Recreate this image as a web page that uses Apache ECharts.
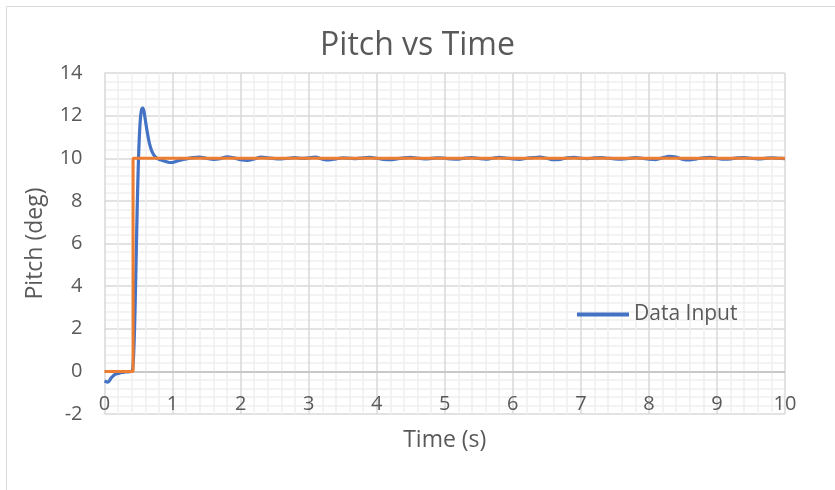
<!DOCTYPE html>
<html>
<head>
<meta charset="utf-8">
<script src="https://cdn.jsdelivr.net/npm/echarts@6/dist/echarts.min.js"></script>
<style>html,body{margin:0;padding:0;background:#fff}#c{width:835px;height:490px}</style>
</head>
<body>
<div id="c"></div>
<script>
// Data Input (blue)
const timeBlue = [0,0.05,0.1,0.15,0.2,0.25,0.3,0.35,0.4,0.42,0.44,0.46,0.48,0.5,0.52,0.54,0.56,0.58,0.6,0.63,0.66,0.7,0.75,0.8,0.85,0.9,0.95,1.0,1.05,
1.1,1.2,1.3,1.4,1.5,1.6,1.7,1.8,1.9,2.0,2.1,2.2,2.3,2.4,2.5,2.6,2.7,2.8,2.9,3.0,3.1,3.2,3.3,3.4,3.5,3.6,3.7,3.8,3.9,4.0,
4.1,4.2,4.3,4.4,4.5,4.6,4.7,4.8,4.9,5.0,5.1,5.2,5.3,5.4,5.5,5.6,5.7,5.8,5.9,6.0,6.1,6.2,6.3,6.4,6.5,6.6,6.7,6.8,6.9,7.0,
7.1,7.2,7.3,7.4,7.5,7.6,7.7,7.8,7.9,8.0,8.1,8.2,8.3,8.4,8.5,8.6,8.7,8.8,8.9,9.0,9.1,9.2,9.3,9.4,9.5,9.6,9.7,9.8,9.9,10.0];
const pitchBlue = [-0.45,-0.5,-0.3,-0.15,-0.1,-0.05,-0.03,-0.02,0,0.3,1.8,4.5,7.6,10.0,11.5,12.2,12.35,12.2,11.8,11.2,10.7,10.3,10.05,9.95,9.9,9.85,9.8,9.8,9.85,
9.9,9.97,10.03,10.05,10.0,9.95,9.98,10.07,10.02,9.93,9.9,9.97,10.05,10.02,9.98,9.97,10.0,10.03,9.99,10.02,10.05,9.96,9.92,9.97,10.02,10.0,9.98,10.02,10.04,10.0,
9.95,9.93,9.97,10.02,10.04,10.0,9.97,9.99,10.02,10.0,9.97,9.96,10.01,10.03,9.99,9.96,10.0,10.04,10.01,9.97,9.95,10.0,10.03,10.05,10.0,9.93,9.95,10.02,10.04,10.0,
9.98,10.02,10.03,10.0,9.97,9.96,9.99,10.03,10.0,9.96,9.94,10.02,10.09,10.05,9.95,9.92,9.97,10.02,10.04,10.0,9.96,9.97,10.02,10.03,10.0,9.97,9.99,10.02,10.0,9.98];
// Reference step (orange)
const timeOrange = [0,0.42,0.42,10];
const pitchOrange = [0,0,10,10];

const blueData = timeBlue.map((t,i)=>[t,pitchBlue[i]]);
const orangeData = timeOrange.map((t,i)=>[t,pitchOrange[i]]);

const txt = '#595959';
const font = 'Open Sans';
const chart = echarts.init(document.getElementById('c'), null, {renderer:'canvas'});
chart.setOption({
  animation:false,
  backgroundColor:'#fff',
  graphic:[{type:'rect',shape:{x:6.5,y:6.5,width:840,height:500},style:{fill:'none',stroke:'#d9d9d9',lineWidth:1},silent:true,z:-10}],
  title:{text:'Pitch vs Time',left:'center',top:25,textStyle:{fontFamily:font,fontSize:32,fontWeight:'normal',color:txt}},
  legend:{left:572,top:299,itemWidth:52,itemHeight:4,itemGap:6,
    data:[{name:'Data Input',icon:'rect'}],
    textStyle:{fontFamily:font,fontSize:21,color:txt}},
  grid:{left:104.5,right:50,top:73,bottom:76,outerBoundsMode:'none'},
  xAxis:{type:'value',min:0,max:10,interval:1,name:'Time (s)',nameLocation:'middle',nameGap:15,nameMoveOverlap:false,
    nameTextStyle:{fontFamily:font,fontSize:23,color:txt,verticalAlign:'top'},
    axisLine:{show:false,onZero:false},axisTick:{show:false},
    axisLabel:{margin:-20,fontFamily:font,fontSize:20,color:txt},
    splitLine:{show:true,lineStyle:{color:'#d9d9d9',width:1.5}},
    minorTick:{show:false,splitNumber:5},minorSplitLine:{show:true,lineStyle:{color:'#f0f0f0',width:1.5}}},
  yAxis:{type:'value',min:-2,max:14,interval:2,name:'Pitch (deg)',nameLocation:'middle',nameGap:58,nameMoveOverlap:false,
    nameTextStyle:{fontFamily:font,fontSize:23,color:txt},
    axisLine:{show:false},axisTick:{show:false},
    axisLabel:{margin:22,fontFamily:font,fontSize:20,color:txt},
    splitLine:{show:true,lineStyle:{color:'#d9d9d9',width:1.5}},
    minorTick:{show:false,splitNumber:5},minorSplitLine:{show:true,lineStyle:{color:'#f0f0f0',width:1.5}}},
  series:[
    {name:'Data Input',type:'line',data:blueData,smooth:0.3,showSymbol:false,
      lineStyle:{color:'#4472C4',width:3.2},itemStyle:{color:'#4472C4'},z:2,
      markLine:{silent:true,symbol:'none',label:{show:false},lineStyle:{color:'#bfbfbf',type:'solid',width:1.5},data:[{yAxis:0}],z:1}},
    {name:'Reference',type:'line',data:orangeData,showSymbol:false,
      lineStyle:{color:'#ED7D31',width:3},itemStyle:{color:'#ED7D31'},z:3}
  ]
});
</script>
</body>
</html>
